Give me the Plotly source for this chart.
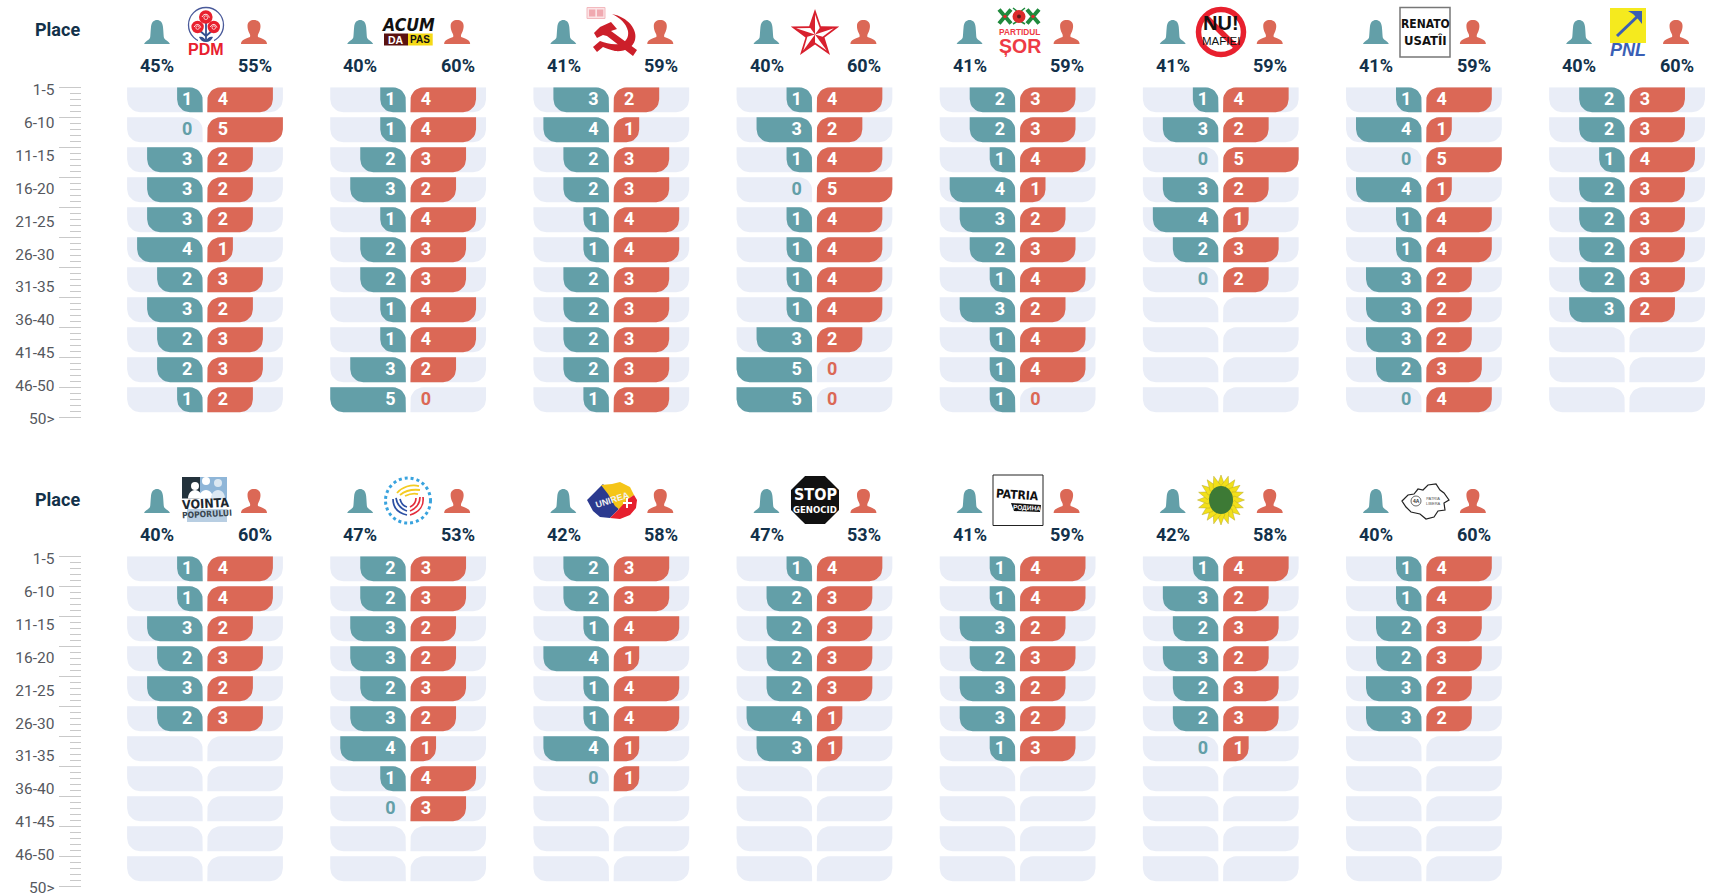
import math
import re
import plotly.graph_objects as go

W, H = 1717, 895

# ------------------------------------------------------------------ data
PARTIES = ["PDM", "ACUM", "PCRM", "PSRM", "Sor", "Nu Mafiei", "Renato Usatii", "PNL",
           "Vointa Poporului", "Partidul Regiunilor", "Unirea", "Stop Genocid",
           "Patria", "Verzii", "Patria Libera"]
PCT_WOMEN = [45, 40, 41, 40, 41, 41, 41, 40, 40, 47, 42, 47, 41, 42, 40]
PCT_MEN = [55, 60, 59, 60, 59, 59, 59, 60, 60, 53, 58, 53, 59, 58, 60]
WOMEN = [
    [1, 0, 3, 3, 3, 4, 2, 3, 2, 2, 1],
    [1, 1, 2, 3, 1, 2, 2, 1, 1, 3, 5],
    [3, 4, 2, 2, 1, 1, 2, 2, 2, 2, 1],
    [1, 3, 1, 0, 1, 1, 1, 1, 3, 5, 5],
    [2, 2, 1, 4, 3, 2, 1, 3, 1, 1, 1],
    [1, 3, 0, 3, 4, 2, 0],
    [1, 4, 0, 4, 1, 1, 3, 3, 3, 2, 0],
    [2, 2, 1, 2, 2, 2, 2, 3],
    [1, 1, 3, 2, 3, 2],
    [2, 2, 3, 3, 2, 3, 4, 1, 0],
    [2, 2, 1, 4, 1, 1, 4, 0],
    [1, 2, 2, 2, 2, 4, 3],
    [1, 1, 3, 2, 3, 3, 1],
    [1, 3, 2, 3, 2, 2, 0],
    [1, 1, 2, 2, 3, 3],
]
MEN = [
    [4, 5, 2, 2, 2, 1, 3, 2, 3, 3, 2],
    [4, 4, 3, 2, 4, 3, 3, 4, 4, 2, 0],
    [2, 1, 3, 3, 4, 4, 3, 3, 3, 3, 3],
    [4, 2, 4, 5, 4, 4, 4, 4, 2, 0, 0],
    [3, 3, 4, 1, 2, 3, 4, 2, 4, 4, 0],
    [4, 2, 5, 2, 1, 3, 2],
    [4, 1, 5, 1, 4, 4, 2, 2, 2, 3, 4],
    [3, 3, 4, 3, 3, 3, 3, 2],
    [4, 4, 2, 3, 2, 3],
    [3, 3, 2, 2, 3, 2, 1, 4, 3],
    [3, 3, 4, 1, 4, 4, 1, 1],
    [4, 3, 3, 3, 3, 1, 1],
    [4, 4, 2, 3, 2, 2, 3],
    [4, 2, 3, 2, 3, 3, 1],
    [4, 4, 3, 3, 2, 2],
]
PLACE_LABELS = ["1-5", "6-10", "11-15", "16-20", "21-25", "26-30", "31-35",
                "36-40", "41-45", "46-50", "50>"]
N_ROWS = 11
# drawn length of a bar for each candidate count (the original's scale)
BAR_SCALE = {0: 0, 1: 25.6, 2: 45.6, 3: 55.6, 4: 65.6, 5: 75.6}

# ------------------------------------------------------------------ style
TEAL, RED, BG, NAVY = "#639FA8", "#DB6856", "#E9EDF7", "#12314A"
GREY, TICK = "#55585E", "#C9C9C9"
FONT = "Roboto, Arial, sans-serif"
NARROW = "Liberation Sans Narrow, DejaVu Sans Condensed, Arial, sans-serif"
ARIAL = "Liberation Sans, Arial, sans-serif"
PITCH, C0, GAP, ROW_PX, R_PX = 203.15, 205.0, 2.3, 30.0, 13.0
LABEL_PITCH = 32.9
BLOCK_TOP = [87.0, 556.0]
BLOCK_PANELS = [range(0, 8), range(8, 15)]

shapes, notes = [], []


def fx(x):
    return x / W


def fy(y):
    return 1 - y / H


def path(d):
    toks = re.findall(r"[MLCQZ]|-?\d+\.?\d*", d)
    out, isx = [], True
    for t in toks:
        if t in "MLCQZ":
            out.append(t)
            isx = True
        else:
            v = float(t)
            out.append(f"{fx(v) if isx else fy(v):.5f}{',' if isx else ''}")
            isx = not isx
    return " ".join(out).replace(", ", ",")


def P(d, fill="rgba(0,0,0,0)", line=None, lw=0):
    shapes.append(dict(type="path", xref="paper", yref="paper", path=path(d),
                       fillcolor=fill, line=dict(color=line or "rgba(0,0,0,0)", width=lw), layer="above"))


def circ(cx, cy, rx, ry=None, fill="rgba(0,0,0,0)", line=None, lw=0, dash="solid"):
    ry = rx if ry is None else ry
    shapes.append(dict(type="circle", xref="paper", yref="paper", x0=fx(cx - rx), x1=fx(cx + rx),
                       y0=fy(cy + ry), y1=fy(cy - ry), fillcolor=fill,
                       line=dict(color=line or "rgba(0,0,0,0)", width=lw, dash=dash), layer="above"))


def rect(x0, y0, x1, y1, fill="rgba(0,0,0,0)", line=None, lw=0):
    shapes.append(dict(type="rect", xref="paper", yref="paper", x0=fx(x0), x1=fx(x1),
                       y0=fy(y1), y1=fy(y0), fillcolor=fill,
                       line=dict(color=line or "rgba(0,0,0,0)", width=lw), layer="above"))


def T(x, y, text, size, color=NAVY, weight=700, family=FONT, style="normal", angle=0):
    notes.append(dict(xref="paper", yref="paper", x=fx(x), y=fy(y), text=text, showarrow=False,
                      xanchor="center", yanchor="middle", textangle=angle, borderpad=0,
                      font=dict(size=size, color=color, weight=weight, family=family, style=style)))


def poly(pts):
    return "M " + " L ".join(f"{a:.2f} {b:.2f}" for a, b in pts) + " Z"


def person(cx, top, female):
    if female:
        d = ("M -13 24 C -12 21.5 -8 20 -7 18 C -6.5 16 -6.5 12 -6 7 C -5.5 2 -3 0 0 0 "
             "C 3 0 5.5 2 6 7 C 6.5 12 6.5 16 7 18 C 8 20 12 21.5 13 24 Z")
    else:
        d = ("M -13 24 C -13 20.5 -10 19 -4 17 C -3.7 16 -3.7 15 -4.5 13.5 C -6 11 -6.5 8 -6.5 6 "
             "C -6.5 2 -3.5 0 0 0 C 3.5 0 6.5 2 6.5 6 C 6.5 8 6 11 4.5 13.5 C 3.7 15 3.7 16 4 17 "
             "C 10 19 13 20.5 13 24 Z")
    toks = d.split()
    out, isx = [], True
    for t in toks:
        if t.isalpha():
            out.append(t)
            isx = True
        else:
            out.append(str(float(t) + (cx if isx else top)))
            isx = not isx
    P(" ".join(out), fill=TEAL if female else RED)


# ------------------------------------------------------------------ logos
def logos():
    red = "#E8202E"
    # PDM
    circ(206, 25, 17.5, fill="white", line="#4A5A9A", lw=1.3)
    rect(198, 36, 214, 43.5, fill="white")
    P("M 206 41 L 206 22 M 206 36 L 199 30 M 206 36 L 213 30", line="#34508F", lw=1.8)
    P("M 199 37 C 202 36 205 38 206 41 C 207 38 210 36 213 37 C 212 40 209 42 206 42 C 203 42 200 40 199 37 Z", fill="#34508F")
    for cx, cy, r in [(205.8, 17, 6.8), (197.6, 27, 6.2), (213.8, 27, 6.2)]:
        circ(cx, cy, r, fill=red)
        P(f"M {cx-r*.55:.1f} {cy:.1f} C {cx-r*.3:.1f} {cy-r*.6:.1f} {cx+r*.4:.1f} {cy-r*.5:.1f} {cx+r*.5:.1f} {cy+r*.1:.1f}", line="white", lw=.9)
        circ(cx, cy + r * .1, r * .28, line="white", lw=.7)
    T(206, 49.5, "PDM", 16, red, 700, ARIAL)
    # ACUM
    T(408.3, 25, "ACUM", 17.5, "#111111", 700, NARROW, "italic")
    rect(384, 33.5, 408, 45.5, fill="#5A1210")
    rect(408, 33.5, 432.7, 45.5, fill="#F5D916")
    T(396, 39.7, "DA", 10.5, "white", 700, ARIAL)
    T(420.3, 39.7, "PAS", 10, "#111111", 700, ARIAL)
    # hammer and sickle
    rect(587, 7.5, 605, 18.5, fill="#FBE3E5", line="#F3B9BE", lw=1)
    rect(589, 9.5, 595.3, 16.5, fill="#F0A9B0")
    rect(597, 9.5, 603.3, 16.5, fill="#F0A9B0")
    csr = "#CC1F2A"
    P("M 612 14 C 628 17 638 30 635 40 C 633 48 624 52 615 51 C 610 50 606 48 603 47 L 597 52 L 593 47 L 600 41 "
      "C 606 43 612 45 619 44 C 626 43 629 37 628 31 C 626 23 620 18 612 14 Z", fill=csr)
    P("M 597 38 L 594 33 L 600 27 L 611 22 L 617 29 L 611 31 L 637 50 L 633 56 L 607 36 L 603 35 Z", fill=csr)
    # star
    cx, cy, R, r = 815, 34.4, 25.5, 10
    outer = [(cx + R * math.sin(i * 2 * math.pi / 5), cy - R * math.cos(i * 2 * math.pi / 5)) for i in range(5)]
    inner = [(cx + r * math.sin((i + .5) * 2 * math.pi / 5), cy - r * math.cos((i + .5) * 2 * math.pi / 5)) for i in range(5)]
    star = []
    for a, b in zip(outer, inner):
        star += [a, b]
    P(poly(star), fill="#D8202E")
    for i in range(5):
        a = outer[i]
        b = inner[i]
        t = [(cx + .78 * (a[0] - cx), cy + .78 * (a[1] - cy)), (cx + .8 * (b[0] - cx), cy + .8 * (b[1] - cy)), (cx, cy)]
        P(poly(t), fill="white")
    # Sor
    for xc in (1005, 1033):
        P(f"M {xc-6} 9.5 L {xc+6} 23.5 M {xc+6} 9.5 L {xc-6} 23.5", line="#1F8A3D", lw=4)
        circ(xc, 16.5, 1.8, fill="#DB2B2B")
    P("M 1013 8 L 1018 12 M 1025 8 L 1020 12 M 1013 24 L 1018 21 M 1025 24 L 1020 21", line="#1F8A3D", lw=1.5)
    circ(1019, 16.5, 6.5, fill="#DB2B2B")
    circ(1019, 16.5, 2, fill="#5A1A1A")
    T(1019.5, 32.5, "PARTIDUL", 8.3, "#EE3A45", 700, ARIAL)
    T(1020, 46, "ȘOR", 19.5, "#EE3A45", 700, ARIAL)
    # Nu mafiei
    circ(1221, 32, 22.5, fill="white", line=red, lw=5.5)
    P("M 1205 16 L 1237 48", line=red, lw=5.5)
    T(1221, 23, "NU!", 20, "#111111", 700, ARIAL)
    T(1221, 41, "MAFIEI", 11.5, "#111111", 400, ARIAL)
    # Renato Usatii
    rect(1400, 7.5, 1450, 57, fill="white", line="#777777", lw=1.5)
    T(1425, 23.5, "RENATO", 12, "#111111", 700, NARROW)
    T(1425, 40.5, "USATÎI", 13, "#111111", 700, NARROW)
    # PNL
    rect(1610, 8, 1646, 43, fill="#F5EA1E")
    P("M 1617 36 L 1639 15", line="#3A5FB5", lw=3)
    P("M 1642 11 L 1642 24 L 1638 19 L 1633 14 L 1628 11 Z", fill="#3A5FB5")
    T(1628, 50, "PNL", 18, "#3A5FB5", 700, ARIAL, "italic")
    # Vointa Poporului
    rect(182, 477, 200, 498.5, fill="#23323C")
    rect(200, 477, 227, 498.5, fill="#8FB6D8")
    for px, py, rx in [(195, 486, 4), (206, 481, 4), (218, 483, 4)]:
        circ(px, py, rx, fill="white" if px < 215 else "#DCE8F2")
        P(f"M {px-7} 498.5 C {px-7} 494 {px-4} 490 {px} 490 C {px+4} 490 {px+7} 494 {px+7} 498.5 Z",
          fill="white" if px < 215 else "#DCE8F2")
    rect(187, 509, 227, 522, fill="#B8CEE2")
    T(205.5, 503.5, "VOINTA", 12.5, "#1C2730", 700, NARROW, angle=-3)
    T(206.5, 514, "POPORULUI", 8.5, "#3A4650", 700, NARROW, angle=-3)
    # Partidul Regiunilor
    circ(408, 500.5, 22.5, fill="white", line="#39A3DE", lw=3, dash="dot")
    P("M 397 493 C 402 487 411 484 419 486 M 400 495 C 405 491 412 489 420 490 M 405 496 C 409 494 414 493 418 494", line="#F4CB21", lw=1.8)
    P("M 393 499 C 393 507 398 513 407 515 M 396 498 C 397 505 401 509 407 511 M 400 499 C 401 503 403 506 407 507", line="#2B4FA3", lw=1.7)
    P("M 423 497 C 424 505 420 512 410 515 M 420 497 C 420 503 417 508 410 511 M 416 498 C 416 502 414 505 410 507", line="#E32B3A", lw=1.7)
    # Unirea
    P(poly([(587, 500), (597, 490), (603, 484), (610, 492), (622, 500), (618, 510), (610, 518), (600, 517), (593, 511)]), fill="#2B3A8F")
    P(poly([(601, 485), (612, 484), (620, 482), (630, 487), (634, 495), (628, 499), (620, 510), (615, 506), (608, 494)]), fill="#F5C518")
    P(poly([(634, 495), (637, 500), (636, 508), (630, 515), (620, 519), (610, 518), (618, 510), (628, 499)]), fill="#E6202E")
    P("M 623 503 L 632 503 M 627 498 L 627 508", line="white", lw=2)
    T(612, 500, "UNIREA", 9, "#F2F2F2", 700, ARIAL, angle=-18)
    # Stop genocid
    oct_pts = [(815 + 26 * math.cos(math.radians(22.5 + 45 * i)), 500 + 26 * math.sin(math.radians(22.5 + 45 * i))) for i in range(8)]
    P(poly(oct_pts), fill="#111111")
    T(815, 494, "STOP", 16, "white", 700, NARROW)
    T(815, 509.5, "GENOCID", 9.5, "white", 700, NARROW)
    # Patria
    rect(993, 475, 1043, 525.5, fill="white", line="#222222", lw=1)
    T(1017.5, 495, "PATRIA", 12, "#111111", 700, NARROW, angle=4)
    P("M 1011 503 L 1041 505 L 1040 512 L 1014 511 Z", fill="#111111")
    T(1027, 507.7, "РОДИНА", 6.5, "white", 700, ARIAL, angle=3)
    # Sunflower
    n = 20
    for i in range(n):
        a = 2 * math.pi * i / n
        ca, sa = math.sin(a), -math.cos(a)
        tip = (1221 + 23.5 * ca, 500 + 25 * sa)
        lb = (1221 + 13 * ca - 4 * sa, 500 + 14 * sa + 4 * ca)
        rb = (1221 + 13 * ca + 4 * sa, 500 + 14 * sa - 4 * ca)
        P(poly([tip, lb, (1221 + 10 * ca, 500 + 11 * sa), rb]), fill="#F2E01A", line="#B7A92A", lw=.5)
    circ(1221, 500, 12, 14, fill="#3D7A35")
    # Map outline
    mp = [(1402, 501), (1408, 495), (1414, 494), (1418, 489), (1423, 490), (1428, 485), (1436, 484), (1440, 490),
          (1444, 493), (1449, 500), (1444, 503), (1445, 510), (1438, 511), (1434, 517), (1426, 519),
          (1420, 514), (1411, 512), (1406, 507)]
    P(poly(mp), fill="white", line="#222222", lw=1.2)
    circ(1416, 501, 5, line="#444444", lw=.8)
    T(1416, 501, "4A", 5, "#333333", 700, ARIAL)
    T(1433, 501, "PATRIA<br>LIBERĂ", 4, "#555555", 400, ARIAL)


# ------------------------------------------------------------------ bars
def leaf(sign, length, k):
    """One row's bar with its rounded inner-top and outer-bottom corners, in axis units."""
    top, bot = k, k + 25 / ROW_PX
    rx, ry = min(R_PX, length / 2), min(R_PX, length / 2) / ROW_PX
    pts = [(rx, top), (length, top), (length, bot - ry)]
    pts += [(length - rx + rx * math.cos(t * math.pi / 16), bot - ry + ry * math.sin(t * math.pi / 16)) for t in range(1, 9)]
    pts += [(0, bot), (0, top + ry)]
    pts += [(rx - rx * math.cos(t * math.pi / 16), top + ry - ry * math.sin(t * math.pi / 16)) for t in range(1, 9)]
    pts.append(pts[0])
    xs = [sign * (GAP + u) for u, _ in pts]
    return xs + [None], [v for _, v in pts] + [None]


def collect(sign, lengths_rows):
    X, Y = [], []
    for length, k in lengths_rows:
        a, b = leaf(sign, length, k)
        X += a
        Y += b
    return X, Y


traces = []
layout_axes = {}
for b, panels in enumerate(BLOCK_PANELS):
    yname = "y" if b == 0 else "y2"
    top = BLOCK_TOP[b]
    for col, i in enumerate(panels):
        c = C0 + PITCH * col
        xkey = f"xaxis{i + 1}" if i else "xaxis"
        xname = f"x{i + 1}" if i else "x"
        half = 80
        layout_axes[xkey] = dict(domain=[fx(c - half), fx(c + half)], range=[-half, half], visible=False,
                                 anchor=yname, fixedrange=True)
        all_rows = range(N_ROWS)
        for sign in (-1, 1):
            X, Y = collect(sign, [(BAR_SCALE[5], k) for k in all_rows])
            traces.append(go.Scatter(x=X, y=Y, xaxis=xname, yaxis=yname, mode="lines", fill="toself",
                                     fillcolor=BG, line=dict(width=0), hoverinfo="skip", name="slots"))
        for sign, vals, col_c in ((-1, WOMEN[i], TEAL), (1, MEN[i], RED)):
            X, Y = collect(sign, [(BAR_SCALE[v], k) for k, v in enumerate(vals) if v > 0])
            traces.append(go.Scatter(x=X, y=Y, xaxis=xname, yaxis=yname, mode="lines", fill="toself",
                                     fillcolor=col_c, line=dict(width=0), hoverinfo="skip",
                                     name=("Women " if sign < 0 else "Men ") + PARTIES[i]))
        tx, ty, tt, tc = [], [], [], []
        for sign, vals, col_c in ((-1, WOMEN[i], TEAL), (1, MEN[i], RED)):
            for k, v in enumerate(vals):
                tx.append(sign * 17.8)
                ty.append(k + 13.3 / ROW_PX)
                tt.append(str(v))
                tc.append("white" if v > 0 else col_c)
        traces.append(go.Scatter(x=tx, y=ty, xaxis=xname, yaxis=yname, mode="text", text=tt,
                                 textposition="middle center", hoverinfo="skip",
                                 textfont=dict(family=FONT, size=18, color=tc, weight=700)))
        # header
        dy = top - BLOCK_TOP[0]
        person(c - 48, 20 + dy, True)
        person(c + 49, 20 + dy, False)
        T(c - 47.7, 65.3 + dy, f"{PCT_WOMEN[i]}%", 18, NAVY, 700)
        T(c + 49.6, 65.3 + dy, f"{PCT_MEN[i]}%", 18, NAVY, 700)
    T(57, 30 + top - BLOCK_TOP[0], "Place", 18, NAVY, 700)

    # tick axis: one unit per row, minor ticks every fifth of a row
    ykey = "yaxis" if b == 0 else "yaxis2"
    layout_axes[ykey] = dict(
        domain=[fy(top + 0.3 + N_ROWS * ROW_PX), fy(top + 0.3)], range=[N_ROWS, 0], anchor="free",
        position=fx(80.5), showgrid=False, zeroline=False, showline=False, showticklabels=False,
        tickmode="array", tickvals=list(range(N_ROWS + 1)), ticks="outside", ticklen=22, tickwidth=1,
        tickcolor=TICK, fixedrange=True, automargin=False,
        minor=dict(tickmode="array", ticks="outside", ticklen=11, tickwidth=1, tickcolor=TICK,
                   tickvals=[k / 5 for k in range(N_ROWS * 5 + 1) if k % 5]),
    )
    # label axis, on its own spacing
    lkey = f"yaxis{b + 3}"
    label_top = top + 2.6
    layout_axes[lkey] = dict(
        domain=[fy(label_top + LABEL_PITCH * (N_ROWS - 1)), fy(label_top)], range=[N_ROWS - 1, 0], anchor="free",
        position=fx(54.5), showgrid=False, zeroline=False, showline=False, ticks="",
        tickmode="array", tickvals=list(range(N_ROWS)), ticktext=PLACE_LABELS,
        tickfont=dict(family=FONT, size=15.5, color=GREY, weight=400), fixedrange=True, automargin=False,
        ticklabeloverflow="allow",
    )
    traces.append(go.Scatter(x=[0], y=[0], xaxis="x", yaxis=f"y{b + 3}", mode="markers",
                             marker=dict(size=1, opacity=0), hoverinfo="skip"))

logos()

fig = go.Figure(traces)
fig.update_layout(
    width=W, height=H, margin=dict(l=0, r=0, t=0, b=0, pad=0, autoexpand=False), autosize=False,
    paper_bgcolor="white", plot_bgcolor="rgba(0,0,0,0)", showlegend=False, hovermode=False,
    shapes=shapes, annotations=notes, font=dict(family=FONT), **layout_axes,
)
fig.write_html("out.html", config=dict(displayModeBar=False, responsive=False),
               post_script="document.body.style.margin='0';document.body.style.overflow='hidden';")
